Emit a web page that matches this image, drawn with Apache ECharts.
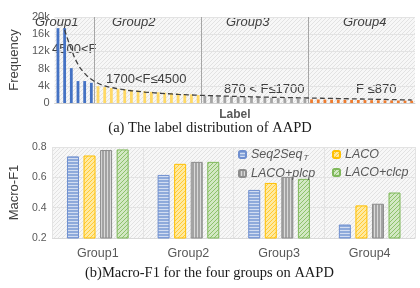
<!DOCTYPE html>
<html><head><meta charset="utf-8">
<script src="https://cdn.jsdelivr.net/npm/echarts@6/dist/echarts.min.js"></script>
<style>html,body{margin:0;padding:0;background:#fff}#c{width:420px;height:288px}</style>
</head><body><div id="c"></div>
<script>
// ---- Data: (a) label frequency per label, split in groups ----
const freqGroup1 = [17400, 17400, 8100, 5100, 5100, 4700];
const freqGroup2 = [3900, 3700, 3500, 3300, 3200, 3050, 2900, 2750, 2600, 2500, 2400, 2300, 2200, 2100, 2000, 1850];
const freqGroup3 = [1700, 1650, 1600, 1550, 1500, 1450, 1400, 1350, 1300, 1250, 1200, 1150, 1100, 1050, 1000, 950];
const freqGroup4 = [850, 830, 800, 780, 760, 740, 720, 700, 680, 660, 640, 620, 600, 580, 560, 540];
const trendLine = [null, 17000, 12500, 9000, 6900, 5500, 4600, 4000, 3600, 3300, 3050, 2850, 2700, 2550, 2420, 2300,
  2200, 2100, 2000, 1930, 1860, 1800, 1750, 1700, 1650, 1600, 1560, 1520, 1480, 1440, 1400, 1360,
  1330, 1300, 1270, 1240, 1210, 1180, 1150, 1120, 1090, 1060, 1030, 1000, 970, 940, 910, 880,
  850, 820, 790, 760, 730, 700];
const freqTicks = [0, 4000, 8000, 12000, 16000, 20000];
const groupNotes = ['4500<F', '1700<F\u22644500', '870 < F\u22641700', 'F \u2264870'];

// ---- Data: (b) Macro-F1 ----
const groups = ['Group1', 'Group2', 'Group3', 'Group4'];
const seq2seqT = [0.738, 0.616, 0.517, 0.289];
const laco = [0.744, 0.689, 0.563, 0.415];
const lacoPlcp = [0.780, 0.702, 0.603, 0.426];
const lacoClcp = [0.784, 0.702, 0.590, 0.500];

function pat(w, h, bg, fg, draw) {
  const c = document.createElement('canvas'); c.width = w; c.height = h;
  const x = c.getContext('2d'); x.fillStyle = bg; x.fillRect(0, 0, w, h);
  x.fillStyle = fg; draw(x, w, h);
  return { image: c, repeat: 'repeat' };
}
const diag = (x, w) => { for (let i = 0; i < w; i++) x.fillRect(i, w - 1 - i, 1, 1); };
const bgPat = () => pat(4, 4, '#f7f7f7', '#e2e2e2', diag);
const bluePat = pat(4, 3, '#d2ddf1', '#8eaadb', (x) => x.fillRect(0, 0, 4, 2));
const yellowPat = pat(4, 4, '#ffeaa0', '#ffc935', diag);
const grayPat = pat(3, 4, '#d9d9d9', '#a3a3a3', (x) => x.fillRect(0, 0, 2, 4));
const greenPat = pat(4, 4, '#d3e8c4', '#8dc26a', diag);

const allFreq = [].concat(freqGroup1, freqGroup2, freqGroup3, freqGroup4);
const groupColors = ['#4472c4', '#ffd966', '#a5a5a5', '#ed7d31'];
const groupSizes = [freqGroup1.length, freqGroup2.length, freqGroup3.length, freqGroup4.length];
const labelCats = allFreq.map((_, i) => 'L' + (i + 1));
const barData = [];
let k = 0;
groupSizes.forEach((n, g) => { for (let j = 0; j < n; j++, k++) barData.push({ value: allFreq[k], itemStyle: { color: groupColors[g] } }); });
const boundaries = [groupSizes[0], groupSizes[0] + groupSizes[1], groupSizes[0] + groupSizes[1] + groupSizes[2]];

const font = 'Liberation Sans, Arial, sans-serif';
const txt = '#404040';
const chart = echarts.init(document.getElementById('c'), null, { renderer: 'canvas' });

const legendBase = {
  orient: 'vertical', itemWidth: 7, itemHeight: 7, itemGap: 5,
  textStyle: { fontFamily: font, fontStyle: 'italic', fontSize: 12.5, color: '#595959',
    rich: { sub: { fontSize: 8, fontStyle: 'italic', color: '#595959', padding: [7, 0, 0, 1], fontFamily: font } } },
  formatter: (n) => n === 'Seq2Seq_T' ? 'Seq2Seq{sub|T}' : n
};

chart.setOption({
  animation: false,
  grid: [
    { left: 35, right: 5, top: 17, bottom: 185, show: true, backgroundColor: bgPat(), borderWidth: 0 },
    { left: 38, right: 5, top: 147, bottom: 50, show: true, backgroundColor: bgPat(), borderWidth: 0 }
  ],
  legend: [
    Object.assign({ left: 233, top: 143, data: ['Seq2Seq_T', 'LACO+plcp'] }, legendBase),
    Object.assign({ left: 327, top: 143, data: ['LACO', 'LACO+clcp'] }, legendBase)
  ],
  xAxis: [
    { gridIndex: 0, type: 'category', data: labelCats, boundaryGap: true,
      axisLabel: { show: false }, axisTick: { show: false },
      axisLine: { lineStyle: { color: '#d0d0d0' } }, splitLine: { show: false },
      name: 'Label', nameLocation: 'middle', nameGap: 6,
      nameTextStyle: { fontFamily: font, fontSize: 12, fontWeight: 'bold', color: '#595959' } },
    { gridIndex: 1, type: 'category', data: groups,
      axisTick: { show: false }, axisLine: { lineStyle: { color: '#d9d9d9' } },
      axisLabel: { fontFamily: font, fontSize: 12.5, color: '#595959', margin: 9 },
      splitLine: { show: true, lineStyle: { color: '#e3e3e3' } } },
    { gridIndex: 0, type: 'value', min: 0, max: allFreq.length, show: false }
  ],
  yAxis: [
    { gridIndex: 0, type: 'value', min: 0, max: 20000, interval: 4000,
      axisLabel: { fontFamily: font, fontSize: 11, color: '#595959', margin: 5,
        formatter: (v) => freqTicks.indexOf(v) >= 0 ? (v === 0 ? '0' : (v / 1000) + 'k') : '' },
      splitLine: { lineStyle: { color: '#e3e3e3' } }, axisLine: { show: false }, axisTick: { show: false },
      name: 'Frequency', nameLocation: 'middle', nameGap: 24, nameRotate: 90,
      nameTextStyle: { fontFamily: font, fontSize: 13, color: txt } },
    { gridIndex: 1, type: 'value', min: 0.2, max: 0.8, interval: 0.2,
      axisLabel: { fontFamily: font, fontSize: 10.5, color: '#595959', margin: 6, formatter: (v) => v.toFixed(1) },
      splitLine: { lineStyle: { color: '#e3e3e3' } }, axisLine: { show: false }, axisTick: { show: false },
      name: 'Macro-F1', nameLocation: 'middle', nameGap: 26, nameRotate: 90,
      nameTextStyle: { fontFamily: font, fontSize: 13, color: txt } }
  ],
  series: [
    { type: 'bar', xAxisIndex: 0, yAxisIndex: 0, data: barData, barWidth: 2.8 },
    { type: 'line', xAxisIndex: 0, yAxisIndex: 0, data: trendLine, smooth: true, symbol: 'none',
      lineStyle: { color: '#404040', width: 1.3, type: [5, 3] }, z: 5 },
    { type: 'line', xAxisIndex: 2, yAxisIndex: 0, data: [], silent: true,
      markLine: { silent: true, symbol: 'none', label: { show: false },
        lineStyle: { color: '#a6a6a6', width: 1, type: 'solid' },
        data: boundaries.map((b) => ({ xAxis: b })) } },
    { name: 'Seq2Seq_T', type: 'bar', xAxisIndex: 1, yAxisIndex: 1, data: seq2seqT, barWidth: 12, barGap: '38%',
      itemStyle: { color: bluePat, borderColor: '#6f8fd0', borderWidth: 1 } },
    { name: 'LACO', type: 'bar', xAxisIndex: 1, yAxisIndex: 1, data: laco, barWidth: 12, barGap: '38%',
      itemStyle: { color: yellowPat, borderColor: '#ffc000', borderWidth: 1 } },
    { name: 'LACO+plcp', type: 'bar', xAxisIndex: 1, yAxisIndex: 1, data: lacoPlcp, barWidth: 12, barGap: '38%',
      itemStyle: { color: grayPat, borderColor: '#8c8c8c', borderWidth: 1 } },
    { name: 'LACO+clcp', type: 'bar', xAxisIndex: 1, yAxisIndex: 1, data: lacoClcp, barWidth: 12, barGap: '38%',
      itemStyle: { color: greenPat, borderColor: '#7fb85a', borderWidth: 1 } }
  ],
  graphic: [
    { type: 'text', left: 35, top: 16, style: { text: 'Group1', font: 'italic 13px ' + font, fill: txt } },
    { type: 'text', left: 112, top: 16, style: { text: 'Group2', font: 'italic 13px ' + font, fill: txt } },
    { type: 'text', left: 226, top: 16, style: { text: 'Group3', font: 'italic 13px ' + font, fill: txt } },
    { type: 'text', left: 343, top: 16, style: { text: 'Group4', font: 'italic 13px ' + font, fill: txt } },
    { type: 'text', left: 52, top: 43, style: { text: groupNotes[0], font: '13px ' + font, fill: txt } },
    { type: 'text', left: 106, top: 73, style: { text: groupNotes[1], font: '13px ' + font, fill: txt } },
    { type: 'text', left: 224, top: 83, style: { text: groupNotes[2], font: '13px ' + font, fill: txt } },
    { type: 'text', left: 356, top: 83, style: { text: groupNotes[3], font: '13px ' + font, fill: txt } },
    { type: 'text', left: 215, top: 191, style: { text: '-', font: '9px ' + font, fill: '#bbbbbb' } },
    { type: 'text', left: 'center', top: 121, style: { text: '(a) The label distribution of AAPD', font: '14.5px Liberation Serif, Times New Roman, serif', fill: '#1a1a1a' } },
    { type: 'text', left: 85, top: 266, style: { text: '(b)Macro-F1 for the four groups on AAPD', font: '14.5px Liberation Serif, Times New Roman, serif', fill: '#1a1a1a' } }
  ]
});
</script></body></html>
